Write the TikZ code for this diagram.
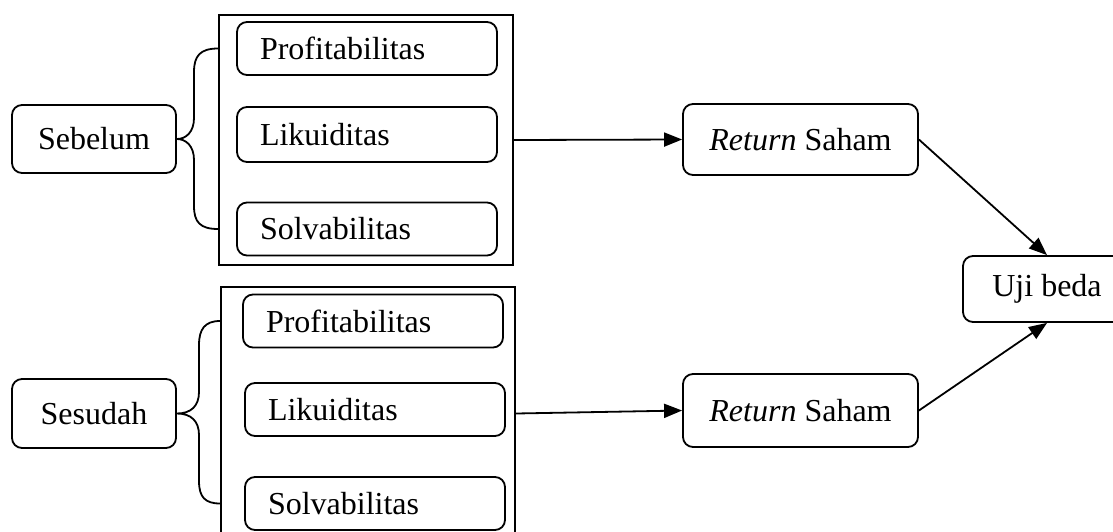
\documentclass[tikz,border=0pt]{standalone}
\usepackage{fontspec}
\setmainfont{Liberation Serif}
\usetikzlibrary{arrows.meta}
\begin{document}
\begin{tikzpicture}[x = 1pt, y = -1pt, line width = 1.8pt,
		font = \fontsize{32}{38}\selectfont,
		box/.style = {draw, rounded corners = 10pt, inner sep = 0pt, align = center},
		ratio/.style = {box, text width = 214pt, inner xsep = 23pt, align = left, minimum height = 53pt},
		group/.style = {draw, inner sep = 0pt, minimum width = 294pt, minimum height = 250pt},
		arr/.style = {-{Triangle[length = 18pt, width = 14pt]}}]
			\clip (0,0) rectangle (1113,531);
			
			\node[group] (ga) at (366,140) {};
			\node[group, minimum height = 253pt] (gb) at (368,413.5) {};
			
			\node[ratio] (pa) at (367,48.5) {Profitabilitas};
			\node[ratio, minimum height = 55pt] (la) at (367,134.5) {Likuiditas};
			\node[ratio] (sa) at (367,229) {Solvabilitas};
			\node[ratio] (pb) at (373,321) {Profitabilitas};
			\node[ratio] (lb) at (375,409.5) {Likuiditas};
			\node[ratio] (sb) at (375,503.5) {Solvabilitas};
			
			\node[box, minimum width = 164pt, minimum height = 68pt] (sebelum) at (94,139) {Sebelum};
			\node[box, minimum width = 164pt, minimum height = 69pt] (sesudah) at (94,413.5) {Sesudah};
			\node[box, minimum width = 235pt, minimum height = 71pt] (ra) at (800.5,139.5) {\textit{Return} Saham};
			\node[box, minimum width = 235pt, minimum height = 73pt] (rb) at (800.5,410.5) {\textit{Return} Saham};
			\node[box, minimum width = 168pt, minimum height = 66pt] (uji) at (1047,289) {Uji beda};
			
			\draw (ga.west |- pa) .. controls (200,48.5) and (194,56) .. (194,72) -- (194,118) .. controls (194,132) and (186,139) .. (sebelum.east) .. controls (186,139) and (194,146) .. (194,160) -- (194,206) .. controls (194,222) and (200,229) .. (ga.west |- sa);
			\draw (gb.west |- pb) .. controls (205,321) and (199,329) .. (199,345) -- (199,392) .. controls (199,406) and (191,413.5) .. (sesudah.east) .. controls (191,413.5) and (199,421) .. (199,435) -- (199,481) .. controls (199,497) and (205,503.5) .. (gb.west |- sb);
			
			\draw[arr] (ga.east) -- (ra.west);
			\draw[arr] (gb.east) -- (rb.west);
			\draw[arr] (ra.east) -- (uji.north);
			\draw[arr] (rb.east) -- (uji.south);
		\end{tikzpicture}
\end{document}
